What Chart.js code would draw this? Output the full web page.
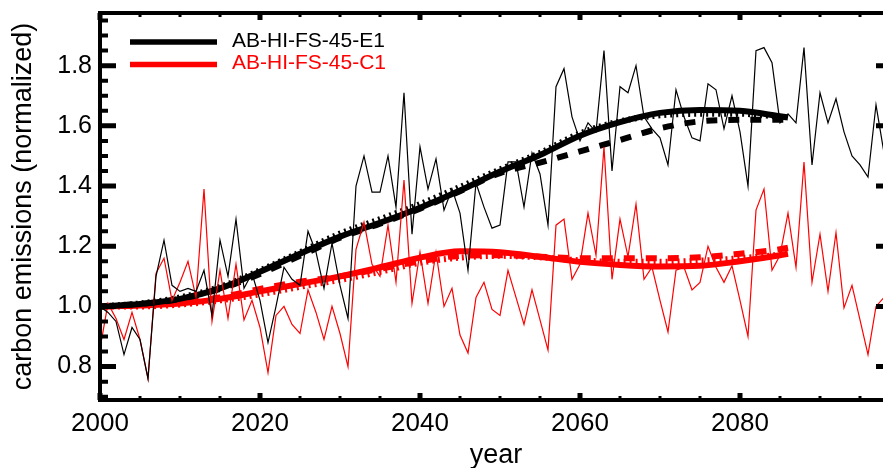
<!DOCTYPE html>
<html>
<head>
<meta charset="utf-8">
<script src="https://cdn.jsdelivr.net/npm/chart.js@4.4.1/dist/chart.umd.min.js"></script>
<style>
  html, body { margin: 0; padding: 0; overflow: hidden; background: #fff; }
  #wrap { width: 900px; height: 468px; }
</style>
</head>
<body>
<div id="wrap"><canvas id="chart"></canvas></div>
<script>
// yearly values, 2000..2099
const years = [
  2000, 2001, 2002, 2003, 2004, 2005, 2006, 2007, 2008, 2009, 2010, 2011, 2012, 2013, 2014, 2015, 2016, 2017, 2018, 2019,
  2020, 2021, 2022, 2023, 2024, 2025, 2026, 2027, 2028, 2029, 2030, 2031, 2032, 2033, 2034, 2035, 2036, 2037, 2038, 2039,
  2040, 2041, 2042, 2043, 2044, 2045, 2046, 2047, 2048, 2049, 2050, 2051, 2052, 2053, 2054, 2055, 2056, 2057, 2058, 2059,
  2060, 2061, 2062, 2063, 2064, 2065, 2066, 2067, 2068, 2069, 2070, 2071, 2072, 2073, 2074, 2075, 2076, 2077, 2078, 2079,
  2080, 2081, 2082, 2083, 2084, 2085, 2086, 2087, 2088, 2089, 2090, 2091, 2092, 2093, 2094, 2095, 2096, 2097, 2098, 2099
];
const e1Yearly = [
  1.00, 0.98, 0.95, 0.84, 0.93, 0.89, 0.76, 1.10, 1.22, 1.07, 1.05, 1.06, 1.05, 1.12, 0.97, 1.22, 1.10, 1.29, 1.06, 1.11,
  1.02, 0.88, 1.00, 1.13, 1.09, 1.07, 1.25, 1.18, 1.06, 1.21, 1.07, 0.96, 1.40, 1.50, 1.38, 1.38, 1.50, 1.33, 1.71, 1.24,
  1.53, 1.39, 1.49, 1.32, 1.39, 1.31, 1.12, 1.41, 1.33, 1.26, 1.27, 1.48, 1.48, 1.33, 1.51, 1.44, 1.27, 1.73, 1.79, 1.63,
  1.55, 1.61, 1.58, 1.85, 1.45, 1.73, 1.71, 1.80, 1.63, 1.59, 1.56, 1.47, 1.72, 1.63, 1.56, 1.55, 1.74, 1.72, 1.59, 1.70,
  1.58, 1.40, 1.85, 1.86, 1.81, 1.61, 1.64, 1.61, 1.86, 1.47, 1.71, 1.61, 1.69, 1.58, 1.50, 1.47, 1.43, 1.67, 1.51, 1.55
];
const c1Yearly = [
  0.86, 1.01, 0.96, 0.89, 0.98, 0.89, 0.76, 1.11, 1.16, 1.02, 1.08, 1.15, 1.03, 1.39, 0.95, 1.12, 0.96, 1.14, 0.955, 1.02,
  0.93, 0.78, 0.97, 1.00, 0.94, 0.91, 1.055, 0.98, 0.89, 1.00, 0.91, 0.80, 1.19, 1.28, 1.14, 1.10, 1.27, 1.08, 1.42, 1.01,
  1.18, 1.01, 1.18, 1.00, 1.06, 0.905, 0.845, 1.03, 1.08, 0.99, 0.97, 1.12, 1.03, 0.94, 1.055, 0.955, 0.855, 1.27, 1.29, 1.09,
  1.14, 1.31, 1.17, 1.53, 1.09, 1.29, 1.165, 1.34, 1.09, 1.13, 1.02, 0.915, 1.12, 1.13, 1.055, 1.08, 1.20, 1.13, 1.08, 1.135,
  1.02, 0.90, 1.32, 1.39, 1.12, 1.17, 1.31, 1.13, 1.48, 1.08, 1.24, 1.05, 1.245, 0.995, 1.07, 0.955, 0.84, 1.00, 1.03, 1.05
];

// smoothed curves, read every 5 years up to 2086
const smoothYears = [2000, 2005, 2010, 2015, 2020, 2025, 2030, 2035, 2040, 2045, 2050, 2055, 2060, 2065, 2070, 2075, 2080, 2085, 2086];
const e1Solid  = [1.00, 1.008, 1.025, 1.06, 1.115, 1.175, 1.232, 1.278, 1.328, 1.385, 1.448, 1.503, 1.567, 1.612, 1.643, 1.653, 1.65, 1.632, 1.628];
const e1Dashed = [1.00, 1.008, 1.025, 1.058, 1.108, 1.168, 1.228, 1.275, 1.325, 1.383, 1.443, 1.478, 1.515, 1.553, 1.592, 1.615, 1.62, 1.62, 1.62];
const e1Dotted = [1.00, 1.01, 1.03, 1.065, 1.12, 1.18, 1.242, 1.29, 1.34, 1.397, 1.455, 1.51, 1.575, 1.615, 1.635, 1.64, 1.64, 1.63, 1.628];
const c1Solid  = [1.00, 1.003, 1.01, 1.025, 1.05, 1.075, 1.10, 1.13, 1.162, 1.183, 1.18, 1.165, 1.148, 1.138, 1.133, 1.135, 1.15, 1.17, 1.175];
const c1Dashed = [1.00, 1.003, 1.012, 1.03, 1.058, 1.082, 1.10, 1.125, 1.15, 1.168, 1.17, 1.165, 1.16, 1.16, 1.16, 1.163, 1.175, 1.19, 1.195];
const c1Dotted = [1.00, 1.00, 1.006, 1.02, 1.04, 1.065, 1.088, 1.115, 1.145, 1.162, 1.168, 1.163, 1.153, 1.148, 1.148, 1.152, 1.16, 1.172, 1.175];

const xTicks = [2000, 2020, 2040, 2060, 2080];
const yTicks = [0.8, 1.0, 1.2, 1.4, 1.6, 1.8];
const legendNames = ['AB-HI-FS-45-E1', 'AB-HI-FS-45-C1'];

const FONT = 'Liberation Sans, Arial, Helvetica, sans-serif';
const BLACK = '#000000';
const RED = '#ff0000';

function pts(xs, ys) {
  return xs.map((x, i) => ({ x: x, y: ys[i] }));
}

function thin(data, color) {
  return { data: data, borderColor: color, borderWidth: 1.2, pointRadius: 0, tension: 0, fill: false };
}

function thick(data, color, dash) {
  return {
    data: data, borderColor: color, borderWidth: 6, borderDash: dash, borderCapStyle: 'butt',
    pointRadius: 0, cubicInterpolationMode: 'monotone', fill: false
  };
}

// IDL-style box with inward ticks
const frame = {
  id: 'frame',
  afterDatasetsDraw(chart) {
    const { ctx, chartArea: a, scales: { x, y } } = chart;
    ctx.save();
    ctx.strokeStyle = BLACK;
    ctx.lineCap = 'butt';
    ctx.lineWidth = 4;
    ctx.strokeRect(a.left, a.top, a.right - a.left, a.bottom - a.top);

    for (let k = 14; k <= 39; k++) {
      const py = y.getPixelForValue(k * 0.05);
      const major = k % 4 === 0;
      const len = major ? 16 : 8;
      ctx.lineWidth = major ? 5 : 4;
      ctx.beginPath();
      ctx.moveTo(a.left, py); ctx.lineTo(a.left + len, py);
      ctx.moveTo(a.right, py); ctx.lineTo(a.right - len, py);
      ctx.stroke();
    }
    for (let yr = 2000; yr <= 2095; yr += 5) {
      const px = x.getPixelForValue(yr);
      const major = yr % 20 === 0;
      const len = major ? 7 : 4;
      ctx.lineWidth = major ? 5 : 3;
      ctx.beginPath();
      ctx.moveTo(px, a.bottom); ctx.lineTo(px, a.bottom - len);
      ctx.moveTo(px, a.top); ctx.lineTo(px, a.top + len);
      ctx.stroke();
    }
    ctx.restore();
  },
  afterDraw(chart) {
    const ctx = chart.ctx;
    ctx.save();
    ctx.font = '21px ' + FONT;
    ctx.textBaseline = 'middle';
    ctx.textAlign = 'left';
    [[BLACK, 42], [RED, 64.5]].forEach(([c, ly], i) => {
      ctx.strokeStyle = c;
      ctx.lineWidth = 5.5;
      ctx.beginPath();
      ctx.moveTo(130, ly); ctx.lineTo(217, ly);
      ctx.stroke();
      ctx.fillStyle = c;
      ctx.fillText(legendNames[i], 232, ly - 1);
    });
    ctx.restore();
  }
};

new Chart(document.getElementById('chart').getContext('2d'), {
  type: 'line',
  data: {
    datasets: [
      thin(pts(years, e1Yearly), BLACK),
      thin(pts(years, c1Yearly), RED),
      thick(pts(smoothYears, e1Solid), BLACK, []),
      thick(pts(smoothYears, e1Dashed), BLACK, [11, 11]),
      thick(pts(smoothYears, e1Dotted), BLACK, [2, 4]),
      thick(pts(smoothYears, c1Solid), RED, []),
      thick(pts(smoothYears, c1Dashed), RED, [11, 11]),
      thick(pts(smoothYears, c1Dotted), RED, [2, 4])
    ]
  },
  options: {
    responsive: true,
    maintainAspectRatio: false,
    animation: false,
    layout: { padding: { top: 13, right: 8, left: 0, bottom: 0 } },
    plugins: { legend: { display: false }, tooltip: { enabled: false } },
    scales: {
      x: {
        type: 'linear', min: 2000, max: 2099,
        afterBuildTicks: s => { s.ticks = xTicks.map(v => ({ value: v })); },
        afterFit: s => { s.height = 68; s.paddingLeft = 0; s.paddingRight = 0; },
        grid: { display: false, drawTicks: false },
        border: { display: false },
        ticks: { color: BLACK, font: { family: FONT, size: 26 }, padding: 8, maxRotation: 0, autoSkip: false, callback: v => String(v) },
        title: { display: true, text: 'year', color: BLACK, font: { family: FONT, size: 27, lineHeight: 0.9 }, padding: { top: 0, bottom: 0 } }
      },
      y: {
        type: 'linear', min: 0.689, max: 1.975,
        afterBuildTicks: s => { s.ticks = yTicks.map(v => ({ value: v })); },
        afterFit: s => { s.width = 100; s.paddingTop = 0; s.paddingBottom = 0; },
        grid: { display: false, drawTicks: false },
        border: { display: false },
        ticks: { color: BLACK, font: { family: FONT, size: 25 }, padding: 8, autoSkip: false, callback: v => v.toFixed(1) },
        title: { display: true, text: 'carbon emissions (normalized)', color: BLACK, font: { family: FONT, size: 27 }, padding: { top: 7, bottom: 0 } }
      }
    }
  },
  plugins: [frame]
});
</script>
</body>
</html>
